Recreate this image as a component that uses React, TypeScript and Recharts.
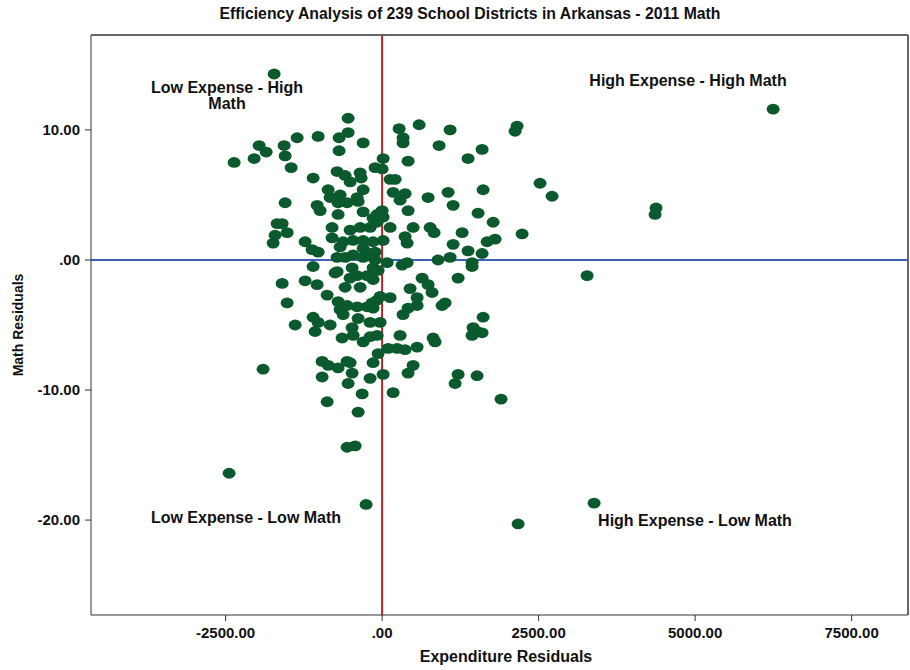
import React from 'react';
import { ScatterChart, Scatter, XAxis, YAxis, ReferenceLine } from 'recharts';

// expenditure residuals per district
const expenditure = [
    -1725, -543, -543, -687, -303, -1022, -1357, -1964, -1852, -1565,
    -1549, -2044, -2364, -687, -1453, -1102, -719, -591, -351, -112,
    16, 128, 272, -862, -671, -303, 176, 591, 335, 335,
    1086, 910, 1597, 1373, 2156, 2124, 0, 415, 208, 2523,
    2715, 1613, 1054, 367, 735, -511, -335, -703, -559, -399,
    -383, -303, 287, 415, 0, 16, -144, -703, -799, -511,
    -351, -192, -80, 128, 495, -799, -623, -463, -303, -144,
    367, 399, -1549, -1038, -990, -80, -1677, -1597, -1517, -1709,
    -1741, -1230, -1118, -1022, -671, -303, -112, -719, -591, -463,
    -303, -1102, -719, -479, -399, -240, -144, -511, -1597, -1230,
    -1038, -591, -351, -144, -878, -1517, -703, -559, -671, -399,
    -240, -80, -1102, -1022, -623, -383, -192, -1389, -830, 1134,
    1533, 1773, 767, 830, 1278, 2236, 16, 1134, 1677, 1805,
    1373, 1597, 894, 1086, 1437, 1437, 319, 399, 80, 639,
    1214, 735, 798, 447, 128, 559, 559, 415, 958, 1006,
    335, -144, 1613, 1453, 3274, -1070, -639, -479, -463, -303,
    -192, -80, -1901, -958, -862, -703, -559, -511, -479, -543,
    -958, -144, -192, -64, -319, -878, -383, -559, -431, -32,
    287, 814, 846, 96, 240, 367, 559, 1437, 1517, 1597,
    495, 415, 16, 1214, 1166, 1517, 176, 1900, -2444, -256,
    3386, 2172, 6246, 4376, 4360, -830, -112, -224, -64, -751,
    -32, -160,
];

// math residuals per district
const mathResid = [
    14.3, 10.9, 9.8, 9.4, 9.0, 9.5, 9.4, 8.8, 8.3, 8.8,
    8.0, 7.8, 7.5, 8.4, 7.1, 6.3, 6.8, 6.5, 6.7, 7.1,
    7.8, 6.2, 10.1, 5.4, 5.0, 5.4, 5.2, 10.4, 9.4, 9.0,
    10.0, 8.8, 8.5, 7.8, 10.3, 9.9, 7.0, 7.6, 6.2, 5.9,
    4.9, 5.4, 5.2, 5.1, 4.8, 6.0, 6.3, 4.4, 4.4, 4.8,
    4.5, 3.7, 4.6, 3.8, 3.8, 3.3, 3.2, 3.5, 2.5, 2.3,
    2.5, 2.5, 2.9, 2.5, 2.5, 1.7, 1.4, 1.5, 1.5, 1.4,
    1.8, 1.3, 4.4, 4.2, 3.8, 3.5, 2.8, 2.8, 2.1, 1.9,
    1.3, 1.4, 0.8, 0.6, 1.0, 0.9, 0.6, 0.2, 0.2, 0.4,
    0.2, -0.5, -0.9, -0.6, -1.2, -1.2, -0.6, -1.4, -1.8, -1.6,
    -1.9, -2.1, -2.1, -1.5, -2.7, -3.3, -3.2, -3.5, -3.8, -3.6,
    -3.6, -3.1, -4.4, -4.8, -4.2, -4.5, -4.8, -5.0, -5.0, 4.2,
    3.6, 2.9, 2.5, 2.1, 2.1, 2.0, 1.5, 1.2, 1.4, 1.6,
    0.7, 0.5, 0.0, 0.2, -0.2, -0.5, -0.4, -0.2, -0.2, -1.4,
    -1.4, -1.9, -2.5, -2.2, -2.9, -2.9, -3.5, -3.7, -3.5, -3.3,
    -4.2, -3.7, -4.4, -5.2, -1.2, -5.5, -6.0, -5.2, -5.8, -6.3,
    -5.9, -5.8, -8.4, -7.8, -8.1, -8.3, -7.8, -7.9, -8.7, -9.5,
    -9.0, -7.9, -9.1, -7.2, -10.3, -10.9, -11.7, -14.4, -14.3, -4.8,
    -5.8, -6.0, -6.3, -6.8, -6.8, -6.9, -6.7, -5.8, -5.5, -5.6,
    -8.1, -8.7, -8.8, -8.8, -9.5, -8.9, -10.2, -10.7, -16.4, -18.8,
    -18.7, -20.3, 11.6, 4.0, 3.5, 4.8, 0.0, 0.5, -0.8, -1.0,
    -2.8, -3.3,
];

const xTicks = [-2500, 0, 2500, 5000, 7500];
const yTicks = [-20, -10, 0, 10];
const xDomain = [-4650, 8400];
const yDomain = [-27.3, 17.3];

const points = expenditure.map((x, i) => ({ x, y: mathResid[i] }));

const fmt = (v: number) => (v === 0 ? '.00' : v.toFixed(2));

const Dot = (props: any) => (
    <ellipse cx={props.cx} cy={props.cy} rx={6.5} ry={5.4} fill="#0b5a2e" />
);

const tickStyle = { fontSize: 15, fontWeight: 'bold', fill: '#111' };

export default function App() {
    return (
        <div style={{ position: 'relative', width: 910, height: 670, fontFamily: '"Liberation Sans", Arial, sans-serif' }}>
            <style>{'body{margin:0;background:#fff}'}</style>
            <ScatterChart width={910} height={670} margin={{ top: 35, right: 2, bottom: 0, left: 0 }}>
                <XAxis
                    type="number"
                    dataKey="x"
                    domain={xDomain}
                    ticks={xTicks}
                    tickFormatter={fmt}
                    height={55}
                    tickMargin={6}
                    stroke="#333"
                    tick={tickStyle}
                    allowDataOverflow
                />
                <YAxis
                    type="number"
                    dataKey="y"
                    domain={yDomain}
                    ticks={yTicks}
                    tickFormatter={fmt}
                    width={91}
                    tickMargin={5}
                    stroke="#333"
                    tick={tickStyle}
                    allowDataOverflow
                />
                <Scatter data={points} shape={Dot} isAnimationActive={false} />
                <ReferenceLine y={yDomain[1]} stroke="#333" strokeWidth={1.5} />
                <ReferenceLine x={xDomain[1]} stroke="#333" strokeWidth={1.5} />
                <ReferenceLine x={0} stroke="#b0262a" strokeWidth={2} />
                <ReferenceLine y={0} stroke="#3e5fb6" strokeWidth={2} />
            </ScatterChart>
            <svg width={910} height={670} style={{ position: 'absolute', left: 0, top: 0, pointerEvents: 'none' }}>
                <g fontWeight="bold" fill="#111">
                    <text x={470} y={19} fontSize={15.8} textAnchor="middle">
                        Efficiency Analysis of 239 School Districts in Arkansas - 2011 Math
                    </text>
                    <text x={227} y={93} fontSize={16} textAnchor="middle">Low Expense - High</text>
                    <text x={227} y={109} fontSize={16} textAnchor="middle">Math</text>
                    <text x={688} y={86} fontSize={16} textAnchor="middle">High Expense - High Math</text>
                    <text x={246} y={523} fontSize={16} textAnchor="middle">Low Expense - Low Math</text>
                    <text x={695} y={526} fontSize={16} textAnchor="middle">High Expense - Low Math</text>
                    <text x={506} y={662} fontSize={16} textAnchor="middle">Expenditure Residuals</text>
                    <text x={23} y={325} fontSize={14} textAnchor="middle" transform="rotate(-90 23 325)">
                        Math Residuals
                    </text>
                </g>
            </svg>
        </div>
    );
}
